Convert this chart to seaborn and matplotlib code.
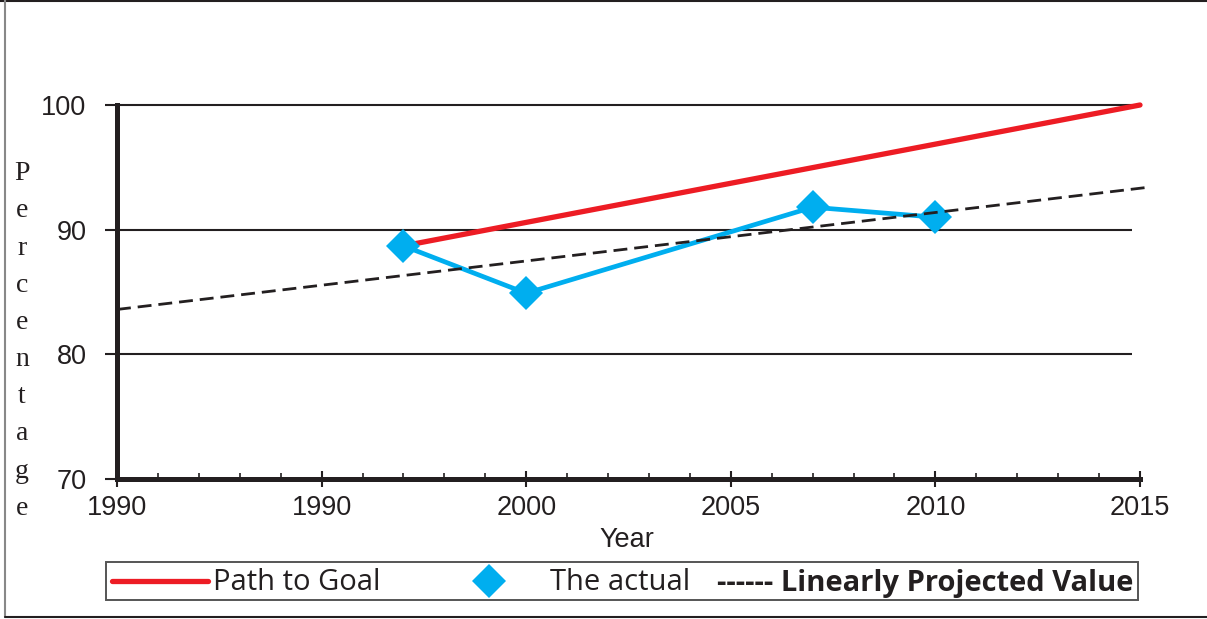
import matplotlib
matplotlib.use("Agg")
import matplotlib.pyplot as plt
import seaborn as sns
from matplotlib.lines import Line2D
from matplotlib.patches import Rectangle

# Measured completion rates (%)
years_actual = [1997, 2000, 2007, 2010]
pct_actual = [88.7, 84.9, 91.8, 91.0]

# Straight path from the first measurement to the 2015 goal
goal_years = [1997, 2015]
goal_pct = [88.7, 100.0]

# Linear projection of the trend
proj_years = [1990, 2015.2]
proj_pct = [83.6, 93.4]

x_tick_years = [1990, 1995, 2000, 2005, 2010, 2015]
x_tick_labels = ["1990", "1990", "2000", "2005", "2010", "2015"]
y_ticks = [70, 80, 90, 100]
grid_levels = [80, 90, 100]

RED = "#ed1c24"
BLUE = "#00aeef"
INK = "#231f20"

sns.set_theme(style="white")
plt.rcParams["font.family"] = ["Liberation Sans", "DejaVu Sans"]

W, H = 1207, 619
fig = plt.figure(figsize=(W / 100, H / 100), dpi=100)
fig.patch.set_facecolor("white")

x0, x1, y_top, y_bot = 117, 1140, 105, 479
ax = fig.add_axes([x0 / W, 1 - y_bot / H, (x1 - x0) / W, (y_bot - y_top) / H])
ax.set_facecolor("white")

# horizontal reference lines
ax.hlines(grid_levels, 1990, 2014.8, colors=INK, lw=1.5, zorder=1, clip_on=False)

sns.lineplot(x=goal_years, y=goal_pct, ax=ax, color=RED, lw=3.8,
             clip_on=False, zorder=3)
sns.lineplot(x=years_actual, y=pct_actual, ax=ax, color=BLUE, lw=3.4,
             marker="D", markersize=17, markeredgewidth=0, zorder=4)
sns.lineplot(x=proj_years, y=proj_pct, ax=ax, color=INK, lw=2,
             clip_on=False, zorder=5)
ax.lines[-1].set_dashes((5, 2.5))

ax.set_xlim(1990, 2015)
ax.set_ylim(70, 100)
ax.set_xticks(x_tick_years)
ax.set_xticklabels(x_tick_labels)
ax.set_xticks(list(range(1990, 2016)), minor=True)
ax.set_yticks(y_ticks)
ax.set_yticklabels([str(v) for v in y_ticks])
ax.set_xlabel("")
ax.set_ylabel("")

for side in ("top", "right"):
    ax.spines[side].set_visible(False)
for side in ("left", "bottom"):
    ax.spines[side].set_linewidth(3.6)
    ax.spines[side].set_color(INK)
    ax.spines[side].set_zorder(6)

ax.tick_params(axis="x", which="major", bottom=True, direction="inout",
               length=11, width=1.5, color=INK, labelsize=19.5,
               labelcolor=INK, pad=6)
ax.tick_params(axis="x", which="minor", bottom=True, direction="in",
               length=4, width=1.2, color=INK)
ax.tick_params(axis="y", which="major", left=True, direction="out",
               length=9, width=1.5, color=INK, labelsize=19.5,
               labelcolor=INK, pad=13)

# axis titles
fig.text(627 / W, 1 - 540 / H, "Year", ha="center", va="center",
         fontsize=19.5, color=INK)
fig.text(22 / W, 1 - 341 / H, "\n".join("Percentage"), ha="center",
         va="center", fontsize=20, color=INK, family="Liberation Serif",
         linespacing=1.64)

# legend
ly = 1 - 581 / H
ty = 1 - 583 / H
fig.add_artist(Rectangle((106 / W, 1 - 600 / H), (1138 - 106) / W, 38 / H,
                         transform=fig.transFigure, fill=False,
                         edgecolor="#555555", lw=1.4))
fig.add_artist(Line2D([112 / W, 208 / W], [ly, ly], transform=fig.transFigure,
                      color=RED, lw=3.8))
fig.text(213 / W, ty, "Path to Goal", ha="left", va="center",
         fontsize=21, color=INK, family="Open Sans")
fig.add_artist(Line2D([489 / W], [ly], transform=fig.transFigure, color=BLUE,
                      marker="D", markersize=17, markeredgewidth=0, lw=0))
fig.text(550 / W, ty, "The actual", ha="left", va="center",
         fontsize=21, color=INK, family="Open Sans")
fig.text(717 / W, ty, "------ Linearly Projected Value", ha="left",
         va="center", fontsize=21, color=INK, family="Open Sans",
         fontweight="bold")

# frame around the figure
fig.add_artist(Line2D([0, 1], [1 - 1 / H, 1 - 1 / H], transform=fig.transFigure,
                      color=INK, lw=1.5))
fig.add_artist(Line2D([5 / W, 5 / W], [1 - 617 / H, 1], transform=fig.transFigure,
                      color="#888888", lw=1.5))
fig.add_artist(Line2D([5 / W, 1], [1 - 617 / H, 1 - 617 / H],
                      transform=fig.transFigure, color=INK, lw=1.5))

fig.savefig("out.png", dpi=100, facecolor="white")
